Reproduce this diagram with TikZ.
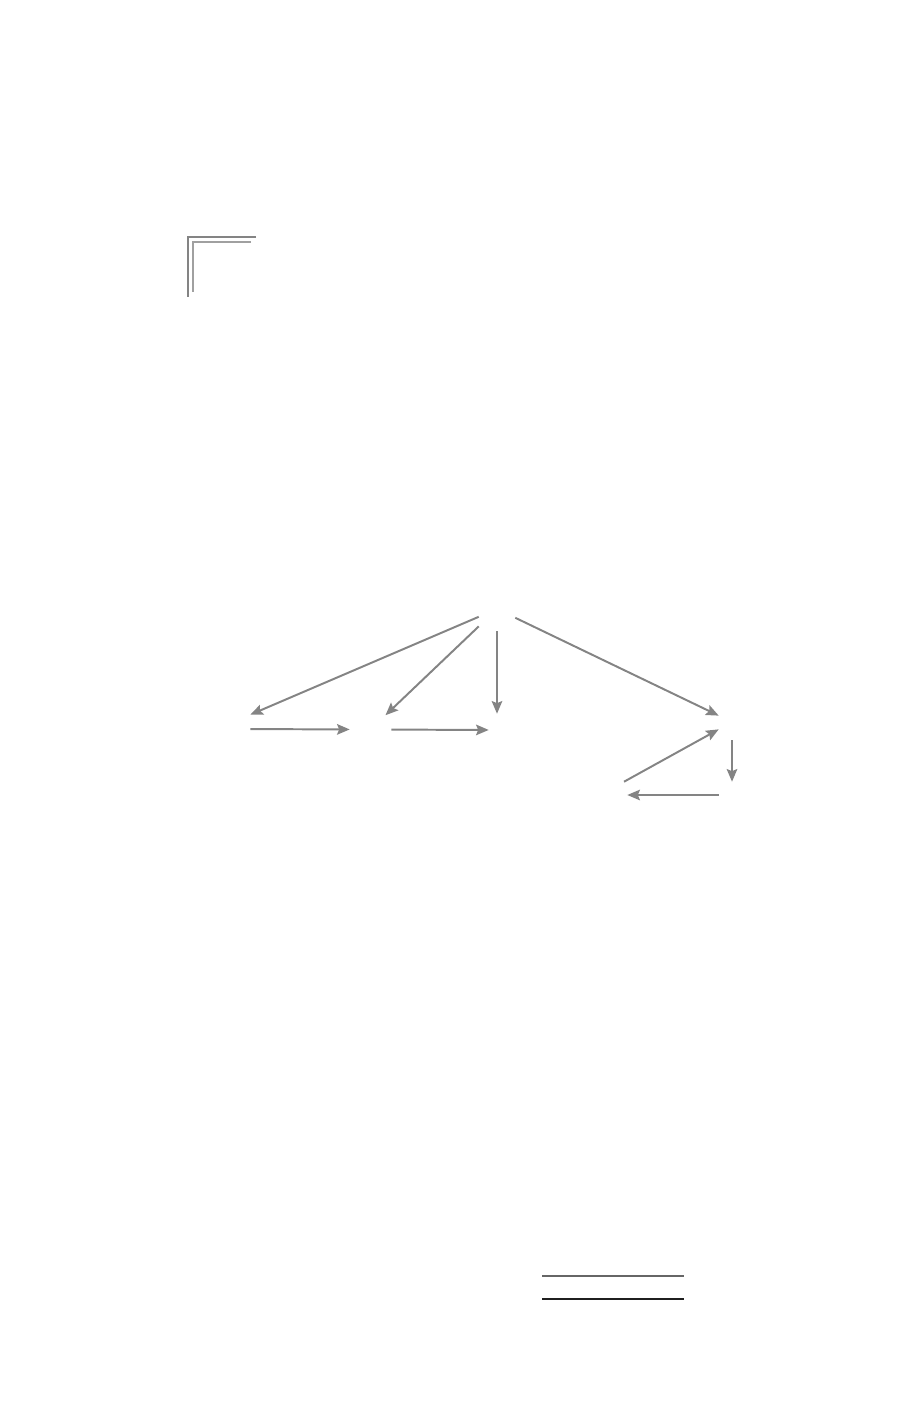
\documentclass[tikz,border=0pt]{standalone}
\usetikzlibrary{arrows.meta}
\definecolor{gris}{RGB}{132,132,132}
\definecolor{grisclaro}{RGB}{160,160,160}
\begin{document}
\begin{tikzpicture}[
			x=0.025cm, y=-0.025cm,
			nodo/.style={rectangle, draw=none, inner sep=0pt},
			flecha/.style={draw=gris, line width=1.4pt, -{Stealth[length=9pt, width=7.5pt, inset=1.5pt]}}
		]
		\useasboundingbox (0,0) rectangle (920,1406);
		% Esquina superior
		\draw[gris, line width=1.4pt] (256,237) -- (188,237) -- (188,297);
		\draw[grisclaro, line width=1.1pt] (251,242) -- (193,242) -- (193,292);
		% Nodos (sin texto)
		\node[nodo, minimum width=0.9cm, minimum height=1.1cm] (raiz) at (497,609) {};
		\node[nodo, minimum width=1.05cm, minimum height=0.7cm] (izq) at (229,729) {};
		\node[nodo, minimum width=1.025cm, minimum height=0.7cm] (medio) at (370.5,729.5) {};
		\node[nodo, minimum width=0.4cm, minimum height=0.8cm] (centro) at (497,730) {};
		\node[nodo, minimum width=0.65cm, minimum height=0.9cm] (der) at (732,722) {};
		\node[nodo, minimum width=0.65cm, minimum height=0.65cm] (abajo) at (732,795) {};
		\node[nodo, minimum width=1.35cm, minimum height=0.65cm] (vuelta) at (600,795) {};
		% Flechas desde la raiz
		\draw[flecha] (raiz) -- (izq.north east);
		\draw[flecha] (raiz) -- (medio);
		\draw[flecha] (raiz) -- (centro);
		\draw[flecha] (raiz) -- (der);
		% Fila inferior
		\draw[flecha] (izq) -- (medio);
		\draw[flecha] (medio) -- (centro);
		% Ciclo de la derecha
		\draw[flecha] (der) -- (abajo);
		\draw[flecha] (abajo) -- (vuelta);
		\draw[flecha] (vuelta) -- (der);
		% Lineas al pie
		\draw[black!60, line width=1.1pt] (542,1276) -- (684,1276);
		\draw[black!88, line width=1.1pt] (542,1299) -- (684,1299);
\end{tikzpicture}
\end{document}
